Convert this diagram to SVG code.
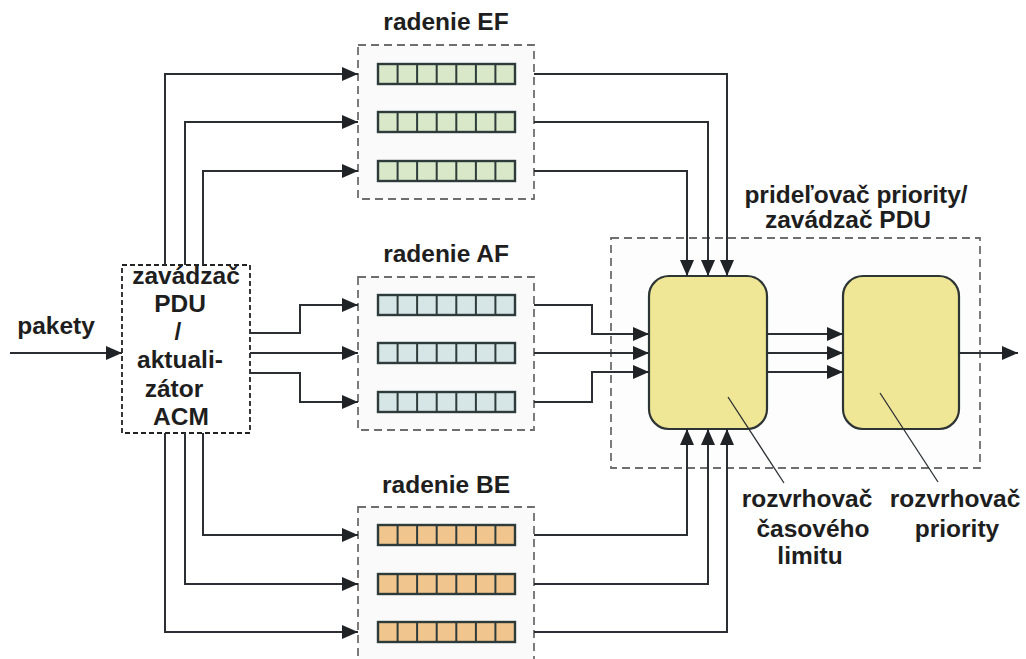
<svg xmlns="http://www.w3.org/2000/svg" xmlns:xlink="http://www.w3.org/1999/xlink" width="1026" height="659" viewBox="0 0 1026 659">
  <style>
    .lbl { font-family: "Liberation Sans", Arial, sans-serif; font-weight: bold; font-size: 24.5px; fill: #1e1e1e; text-anchor: middle; }
    .grp { fill: #fafafa; stroke: #6e6e6e; stroke-width: 1.8; stroke-dasharray: 8 5; }
    .ctl { fill: #ffffff; stroke: #222; stroke-width: 1.8; stroke-dasharray: 5 3; }
    .wire { fill: none; stroke: #2b2f33; stroke-width: 2; marker-end: url(#arrow); }
    .leader { fill: none; stroke: #2b2f33; stroke-width: 1.3; }
    .sched { fill: #efe796; stroke: #2e3535; stroke-width: 2.2; }
    .qline { stroke: #2e3b3b; stroke-width: 2; }
  </style>
  <defs>
    <marker id="arrow" markerUnits="userSpaceOnUse" markerWidth="16" markerHeight="14" viewBox="0 0 16 14" refX="16" refY="7" orient="auto">
      <path d="M0,0 L16,7 L0,14 Z" fill="#1f2326"/>
    </marker>
    <!-- one queue of seven cells, origin at its top-left corner -->
    <g id="cells">
      <line class="qline" x1="19.6" y1="0" x2="19.6" y2="20"/>
      <line class="qline" x1="39.1" y1="0" x2="39.1" y2="20"/>
      <line class="qline" x1="58.7" y1="0" x2="58.7" y2="20"/>
      <line class="qline" x1="78.3" y1="0" x2="78.3" y2="20"/>
      <line class="qline" x1="97.9" y1="0" x2="97.9" y2="20"/>
      <line class="qline" x1="117.4" y1="0" x2="117.4" y2="20"/>
      <rect x="0" y="0" width="137" height="20" fill="none" stroke="#2e3b3b" stroke-width="2.4"/>
    </g>
  </defs>

  <rect width="1026" height="659" fill="#ffffff"/>

  <!-- scheduler group frame -->
  <g id="scheduler-group">
    <rect class="grp" x="611" y="238" width="369" height="230" style="fill:#fdfdfd"/>
    <text class="lbl" x="856" y="203">prideľovač priority/</text>
    <text class="lbl" x="848" y="228">zavádzač PDU</text>
  </g>

  <!-- EF queues -->
  <g id="queue-ef">
    <rect class="grp" x="358" y="45" width="176" height="154"/>
    <text class="lbl" x="446" y="30">radenie EF</text>
    <g fill="#d8e8c8">
      <rect x="378" y="64" width="137" height="20"/>
      <rect x="378" y="112" width="137" height="20"/>
      <rect x="378" y="161" width="137" height="20"/>
    </g>
    <use xlink:href="#cells" x="378" y="64"/>
    <use xlink:href="#cells" x="378" y="112"/>
    <use xlink:href="#cells" x="378" y="161"/>
  </g>

  <!-- AF queues -->
  <g id="queue-af">
    <rect class="grp" x="358" y="277" width="176" height="153"/>
    <text class="lbl" x="446" y="262">radenie AF</text>
    <g fill="#d6e5e5">
      <rect x="378" y="295" width="137" height="20"/>
      <rect x="378" y="343" width="137" height="20"/>
      <rect x="378" y="392" width="137" height="20"/>
    </g>
    <use xlink:href="#cells" x="378" y="295"/>
    <use xlink:href="#cells" x="378" y="343"/>
    <use xlink:href="#cells" x="378" y="392"/>
  </g>

  <!-- BE queues -->
  <g id="queue-be">
    <rect class="grp" x="358" y="507" width="176" height="165"/>
    <text class="lbl" x="446" y="493">radenie BE</text>
    <g fill="#f1c68e">
      <rect x="378" y="525" width="137" height="20"/>
      <rect x="378" y="574" width="137" height="20"/>
      <rect x="378" y="622" width="137" height="20"/>
    </g>
    <use xlink:href="#cells" x="378" y="525"/>
    <use xlink:href="#cells" x="378" y="574"/>
    <use xlink:href="#cells" x="378" y="622"/>
  </g>

  <!-- classifier / ACM updater -->
  <g id="classifier">
    <rect class="ctl" x="122" y="265" width="128" height="168"/>
    <text class="lbl" x="186" y="284">zavádzač</text>
    <text class="lbl" x="180" y="312">PDU</text>
    <text class="lbl" x="178" y="340">/</text>
    <text class="lbl" x="180" y="368">aktuali-</text>
    <text class="lbl" x="174" y="397">zátor</text>
    <text class="lbl" x="181" y="425">ACM</text>
  </g>

  <!-- deadline scheduler -->
  <g id="deadline-scheduler">
    <rect class="sched" x="649" y="276" width="118" height="153" rx="20"/>
  </g>

  <!-- priority scheduler -->
  <g id="priority-scheduler">
    <rect class="sched" x="843" y="276" width="116" height="153" rx="20"/>
  </g>

  <text id="packets-label" class="lbl" x="56" y="334">pakety</text>

  <g id="callouts">
    <line class="leader" x1="728" y1="397" x2="784" y2="483"/>
    <line class="leader" x1="880" y1="393" x2="938" y2="482"/>
    <text class="lbl" x="807" y="507">rozvrhovač</text>
    <text class="lbl" x="813" y="537">časového</text>
    <text class="lbl" x="810" y="564">limitu</text>
    <text class="lbl" x="955" y="507">rozvrhovač</text>
    <text class="lbl" x="957" y="537">priority</text>
  </g>

  <!-- connectors -->
  <g id="connectors">
    <path class="wire" d="M10 353 H122"/>

    <path class="wire" d="M250 333 H300 V305 H358"/>
    <path class="wire" d="M250 353 H358"/>
    <path class="wire" d="M250 373 H300 V402 H358"/>

    <path class="wire" d="M165 265 V74 H358"/>
    <path class="wire" d="M185 265 V122 H358"/>
    <path class="wire" d="M203 265 V171 H358"/>

    <path class="wire" d="M203 433 V535 H358"/>
    <path class="wire" d="M185 433 V584 H358"/>
    <path class="wire" d="M165 433 V632 H358"/>

    <path class="wire" d="M534 74 H727 V276"/>
    <path class="wire" d="M534 122 H708 V276"/>
    <path class="wire" d="M534 171 H687 V276"/>

    <path class="wire" d="M534 305 H592 V334 H649"/>
    <path class="wire" d="M534 353 H649"/>
    <path class="wire" d="M534 402 H592 V372 H649"/>

    <path class="wire" d="M534 535 H687 V429"/>
    <path class="wire" d="M534 584 H708 V429"/>
    <path class="wire" d="M534 632 H727 V429"/>

    <path class="wire" d="M767 334 H843"/>
    <path class="wire" d="M767 353 H843"/>
    <path class="wire" d="M767 372 H843"/>

    <path class="wire" d="M959 353 H1018"/>
  </g>
</svg>
